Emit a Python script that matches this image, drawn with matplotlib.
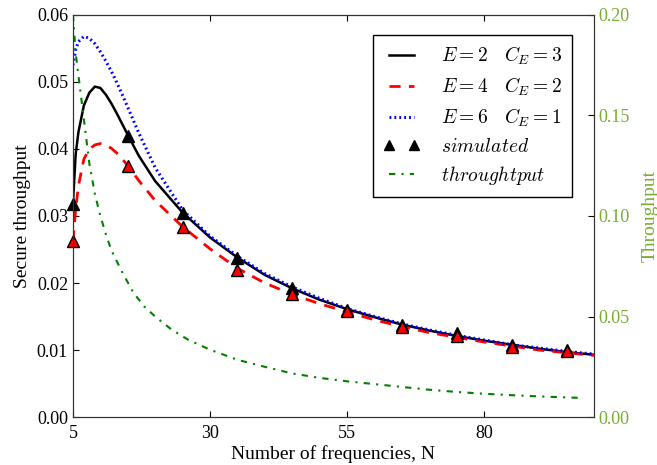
import numpy as np
import matplotlib
matplotlib.use("Agg")
from matplotlib import pyplot as plt

# analytical curves
n_curve = [5, 5.5, 6, 7, 8, 9, 10, 11, 12, 13, 14, 15, 17, 20, 25, 30, 35, 40,
           45, 50, 55, 60, 65, 70, 75, 80, 85, 90, 95, 100]
secure_e2 = [0.0318, 0.0392, 0.0425, 0.0465, 0.0484, 0.0493, 0.0491, 0.0481,
             0.0468, 0.0453, 0.0437, 0.0421, 0.0390, 0.0352, 0.0305, 0.0268,
             0.0238, 0.0212, 0.0192, 0.0175, 0.0161, 0.0149, 0.0138, 0.0129,
             0.0121, 0.0114, 0.0108, 0.0102, 0.0097, 0.0093]
secure_e4 = [0.0262, 0.0310, 0.0345, 0.0385, 0.0400, 0.0406, 0.0408, 0.0406,
             0.0401, 0.0394, 0.0385, 0.0375, 0.0353, 0.0323, 0.0284, 0.0251,
             0.0222, 0.0200, 0.0183, 0.0169, 0.0157, 0.0145, 0.0135, 0.0126,
             0.0119, 0.0112, 0.0106, 0.0100, 0.0096, 0.0092]
secure_e6 = [0.0525, 0.0548, 0.0560, 0.0568, 0.0565, 0.0557, 0.0545, 0.0531,
             0.0516, 0.0499, 0.0481, 0.0462, 0.0424, 0.0372, 0.0309, 0.0270,
             0.0240, 0.0214, 0.0194, 0.0177, 0.0162, 0.0150, 0.0139, 0.0130,
             0.0122, 0.0115, 0.0108, 0.0103, 0.0098, 0.0094]

# simulation points
n_sim = [5, 15, 25, 35, 45, 55, 65, 75, 85, 95]
sim_e2 = [0.0318, 0.0420, 0.0305, 0.0238, 0.0192, 0.0160, 0.0137, 0.0125, 0.0107, 0.0100]
sim_e4 = [0.0262, 0.0374, 0.0283, 0.0220, 0.0183, 0.0159, 0.0134, 0.0121, 0.0104, 0.0098]

# plain throughput (right axis)
n_thr = [5, 5.5, 6, 7, 8, 9, 10, 11, 12, 14, 16, 18, 20, 23, 26, 30, 35, 40,
         45, 50, 55, 60, 65, 70, 75, 80, 85, 90, 95, 98]
throughput = [0.200, 0.181, 0.170, 0.148, 0.126, 0.111, 0.100, 0.091, 0.083,
              0.072, 0.062, 0.055, 0.050, 0.0435, 0.0385, 0.0335, 0.0285,
              0.0250, 0.0217, 0.0195, 0.0178, 0.0164, 0.0150, 0.0136, 0.0125,
              0.0116, 0.0109, 0.0103, 0.0098, 0.0095]

x_ticks = [5, 30, 55, 80]
left_ticks = [0.00, 0.01, 0.02, 0.03, 0.04, 0.05, 0.06]
right_ticks = [0.00, 0.05, 0.10, 0.15, 0.20]

green_txt = "#77AC30"

plt.rcParams["font.family"] = ["Liberation Serif", "DejaVu Serif"]
plt.rcParams["mathtext.fontset"] = "cm"
plt.rcParams["font.size"] = 12

fig, ax = plt.subplots(figsize=(6.57, 4.65), dpi=100)
fig.subplots_adjust(left=0.111, right=0.904, bottom=0.103, top=0.968)

l1, = ax.plot(n_curve, secure_e2, "k-", lw=1.8, label=r"$E=2\ \ \ C_E=3$")
l2, = ax.plot(n_curve, secure_e4, "r--", lw=2.0, dashes=(4, 3), label=r"$E=4\ \ \ C_E=2$")
l3, = ax.plot(n_curve, secure_e6, "b:", lw=2.2, dashes=(0.6, 1.0), label=r"$E=6\ \ \ C_E=1$")
l4, = ax.plot(n_sim, sim_e2, "^", ms=8, color="k", mec="k", ls="none",
              label=r"$simulated$", clip_on=False, zorder=4)
ax.plot(n_sim, sim_e4, "^", ms=8, mfc="r", mec="k", mew=1.0, ls="none",
        clip_on=False, zorder=5)

ax.set_xlim(5, 100)
ax.set_ylim(0, 0.06)
ax.set_xticks(x_ticks)
ax.set_yticks(left_ticks)
ax.set_yticklabels(["%.2f" % t for t in left_ticks])
ax.set_xlabel("Number of frequencies, N", fontsize=14, labelpad=2)
ax.set_ylabel("Secure throughput", fontsize=14, labelpad=4)
ax.tick_params(direction="in", top=True, labelsize=13, length=4)
ax.tick_params(axis="x", pad=6)

ax2 = ax.twinx()
l5, = ax2.plot(n_thr, throughput, "-.", color="#008000", lw=1.5,
               dashes=(3, 3, 1, 3), label=r"$throughtput$")
ax2.set_ylim(0, 0.2)
ax2.set_yticks(right_ticks)
ax2.set_yticklabels(["%.2f" % t for t in right_ticks])
ax2.set_ylabel("Throughput", color=green_txt, fontsize=14, labelpad=8)
ax2.tick_params(direction="in", labelsize=13, length=4, labelcolor=green_txt)

for a in (ax, ax2):
    for s in a.spines.values():
        s.set_color("#333333")

leg = ax2.legend(handles=[l1, l2, l3, l4, l5], loc="upper right",
                 bbox_to_anchor=(0.977, 0.975), fontsize=14, numpoints=2,
                 handlelength=1.9, handletextpad=1.1, labelspacing=0.45,
                 borderpad=0.5, fancybox=False, framealpha=1, markerscale=0.85)
leg.get_frame().set_edgecolor("k")
leg.get_frame().set_linewidth(1.0)

plt.savefig("out.png")
